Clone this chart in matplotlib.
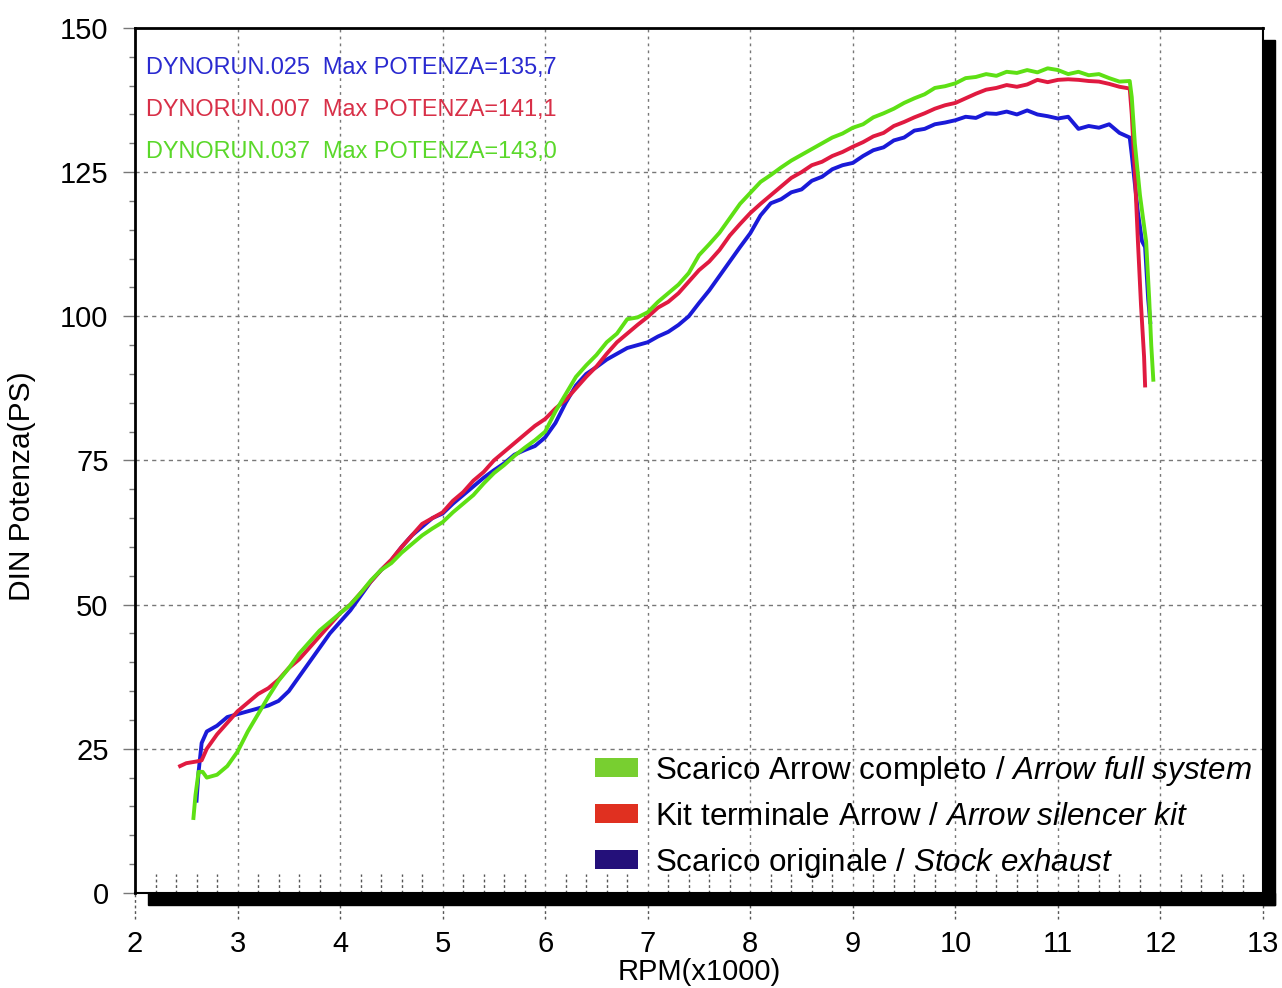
import numpy as np
import matplotlib
matplotlib.use('Agg')
import matplotlib.pyplot as plt
from matplotlib.patches import Rectangle, Patch

# dyno runs, rpm in thousands, power in PS
rpm_stock = [2.60, 2.62, 2.65, 2.70, 2.80, 2.90, 3.00, 3.10, 3.20, 3.30, 3.40, 3.50, 3.60, 3.70, 3.80, 3.90,
	4.00, 4.10, 4.20, 4.30, 4.40, 4.50, 4.60, 4.70, 4.80, 4.90, 5.00, 5.10, 5.20, 5.30, 5.40, 5.50,
	5.60, 5.70, 5.80, 5.90, 6.00, 6.10, 6.20, 6.30, 6.40, 6.50, 6.60, 6.70, 6.80, 6.90, 7.00, 7.10,
	7.20, 7.30, 7.40, 7.50, 7.60, 7.70, 7.80, 7.90, 8.00, 8.10, 8.20, 8.30, 8.40, 8.50, 8.60, 8.70,
	8.80, 8.90, 9.00, 9.10, 9.20, 9.30, 9.40, 9.50, 9.60, 9.70, 9.80, 9.90, 10.00, 10.10, 10.20, 10.30,
	10.40, 10.50, 10.60, 10.70, 10.80, 10.90, 11.00, 11.10, 11.20, 11.30, 11.40, 11.50, 11.60, 11.70,
	11.72, 11.75, 11.78, 11.82, 11.85, 11.88, 11.90]
ps_stock = [16, 21, 26, 28, 29, 30.5, 31, 31.5, 32, 32.5, 33.3, 35, 37.5, 40, 42.5, 45,
	47, 49, 51.5, 54, 56, 57.7, 60, 62, 63.5, 65, 65.8, 67.5, 69, 70.5, 72, 73.3,
	74.5, 76, 76.8, 77.5, 79, 81.5, 85, 88, 90, 91.2, 92.5, 93.5, 94.5, 95, 95.5, 96.5,
	97.3, 98.5, 100, 102.3, 104.5, 107, 109.5, 112, 114.4, 117.5, 119.6, 120.3, 121.5, 122, 123.5, 124.2,
	125.5, 126.2, 126.6, 127.8, 128.8, 129.3, 130.5, 131, 132.2, 132.5, 133.3, 133.6, 134, 134.6, 134.4, 135.2,
	135.1, 135.5, 135, 135.7, 135, 134.7, 134.3, 134.6, 132.5, 133, 132.7, 133.3, 131.8, 131,
	128, 123, 118, 113, 112, 103, 99]

rpm_silencer = [2.44, 2.50, 2.60, 2.65, 2.70, 2.80, 2.90, 3.00, 3.10, 3.20, 3.30, 3.40, 3.50, 3.60, 3.70, 3.80,
	3.90, 4.00, 4.10, 4.20, 4.30, 4.40, 4.50, 4.60, 4.70, 4.80, 4.90, 5.00, 5.10, 5.20, 5.30, 5.40,
	5.50, 5.60, 5.70, 5.80, 5.90, 6.00, 6.10, 6.20, 6.30, 6.40, 6.50, 6.60, 6.70, 6.80, 6.90, 7.00,
	7.10, 7.20, 7.30, 7.40, 7.50, 7.60, 7.70, 7.80, 7.90, 8.00, 8.10, 8.20, 8.30, 8.40, 8.50, 8.60,
	8.70, 8.80, 8.90, 9.00, 9.10, 9.20, 9.30, 9.40, 9.50, 9.60, 9.70, 9.80, 9.90, 10.00, 10.10, 10.20,
	10.30, 10.40, 10.50, 10.60, 10.70, 10.80, 10.90, 11.00, 11.10, 11.20, 11.30, 11.40, 11.50, 11.60,
	11.70, 11.72, 11.75, 11.78, 11.81, 11.84, 11.85]
ps_silencer = [22, 22.5, 22.8, 23, 25, 27.5, 29.5, 31.5, 33, 34.5, 35.5, 37, 39, 40.5, 42.5, 44.5,
	46.5, 48.5, 50, 52, 54, 56, 57.8, 60, 62, 64, 65, 66, 68, 69.5, 71.5, 73,
	75, 76.5, 78, 79.5, 81, 82.2, 84, 85.5, 87.5, 89.5, 91.3, 93.5, 95.5, 97, 98.5, 99.9,
	101.5, 102.5, 104, 106, 108, 109.5, 111.5, 114, 116, 117.9, 119.5, 121, 122.5, 124, 125, 126.2,
	126.8, 127.8, 128.5, 129.4, 130.2, 131.2, 131.8, 133, 133.7, 134.5, 135.2, 136, 136.6, 137, 137.8, 138.6,
	139.3, 139.6, 140.1, 139.8, 140.2, 141, 140.6, 141, 141.1, 141, 140.8, 140.7, 140.3, 139.8,
	139.5, 135, 125, 113, 102, 93, 88]

rpm_full = [2.57, 2.59, 2.62, 2.66, 2.70, 2.80, 2.90, 3.00, 3.10, 3.20, 3.30, 3.40, 3.50, 3.60, 3.70, 3.80,
	3.90, 4.00, 4.10, 4.20, 4.30, 4.40, 4.50, 4.60, 4.70, 4.80, 4.90, 5.00, 5.10, 5.20, 5.30, 5.40,
	5.50, 5.60, 5.70, 5.80, 5.90, 6.00, 6.10, 6.20, 6.30, 6.40, 6.50, 6.60, 6.70, 6.80, 6.90, 7.00,
	7.10, 7.20, 7.30, 7.40, 7.50, 7.60, 7.70, 7.80, 7.90, 8.00, 8.10, 8.20, 8.30, 8.40, 8.50, 8.60,
	8.70, 8.80, 8.90, 9.00, 9.10, 9.20, 9.30, 9.40, 9.50, 9.60, 9.70, 9.80, 9.90, 10.00, 10.10, 10.20,
	10.30, 10.40, 10.50, 10.60, 10.70, 10.80, 10.90, 11.00, 11.10, 11.20, 11.30, 11.40, 11.50, 11.60,
	11.70, 11.72, 11.75, 11.80, 11.86, 11.89, 11.91, 11.93]
ps_full = [13, 17, 21, 21, 20, 20.5, 22, 24.5, 28, 31, 34, 36.8, 39, 41.5, 43.5, 45.5,
	47, 48.5, 50, 52, 54.2, 56, 57.2, 59, 60.5, 62, 63.2, 64.3, 66, 67.5, 69, 71,
	72.8, 74.2, 75.8, 77.2, 78.5, 80, 83.5, 86.5, 89.5, 91.5, 93.3, 95.5, 97, 99.5, 99.8, 100.7,
	102.5, 104, 105.5, 107.5, 110.6, 112.5, 114.5, 117, 119.5, 121.4, 123.3, 124.5, 125.8, 127, 128, 129,
	130, 131, 131.7, 132.7, 133.3, 134.5, 135.2, 136, 137, 137.8, 138.5, 139.6, 139.9, 140.4, 141.3, 141.5,
	142, 141.7, 142.4, 142.2, 142.7, 142.3, 143, 142.7, 142, 142.4, 141.8, 142, 141.3, 140.7,
	140.8, 138, 130, 121, 113, 103, 95, 89]

run_names = ['DYNORUN.025', 'DYNORUN.007', 'DYNORUN.037']
max_power = ['135,7', '141,1', '143,0']
legend_regular = ['Scarico Arrow completo', 'Kit terminale Arrow', 'Scarico originale']
legend_italic = ['Arrow full system', 'Arrow silencer kit', 'Stock exhaust']

x_ticks = list(range(2, 14))
y_ticks = [0, 25, 50, 75, 100, 125, 150]

plt.rcParams['font.family'] = ['Liberation Sans', 'DejaVu Sans']
plt.rcParams['mathtext.fontset'] = 'custom'
plt.rcParams['mathtext.rm'] = 'Liberation Sans'
plt.rcParams['mathtext.it'] = 'Liberation Sans:italic'

blue = '#1a1ad8'
red = '#e01a40'
green = '#5ee014'

fig = plt.figure(figsize=(12.82, 9.88), dpi=100)
ax = fig.add_axes([0.1053, 0.0962, 0.8799, 0.8755])

ax.set_xlim(2, 13)
ax.set_ylim(0, 150)

# grid
for x in x_ticks[1:-1]:
	ax.axvline(x, color='#777777', lw=1, ls=(0, (2, 3)), zorder=1)
for y in y_ticks[1:-1]:
	ax.axhline(y, color='#777777', lw=1, ls=(0, (3, 3)), zorder=1)

# small dashed marks along the bottom every 200 rpm
minor_x = [x for x in np.arange(2.2, 13, 0.2) if abs(x - round(x)) > 0.01]
for x in minor_x:
	ax.plot([x, x], [0, 0.022], transform=ax.get_xaxis_transform(), color='#555555',
		lw=1, ls=(0, (2, 2)), zorder=1)
for x in x_ticks:
	ax.plot([x, x], [-0.03, 0], transform=ax.get_xaxis_transform(), color='#555555',
		lw=1, ls=(0, (2, 2)), clip_on=False, zorder=1)

ax.plot(rpm_stock, ps_stock, color=blue, lw=2.8, zorder=3)
ax.plot(rpm_silencer, ps_silencer, color=red, lw=2.8, zorder=4)
ax.plot(rpm_full, ps_full, color=green, lw=2.8, zorder=5)

# run info top left
text_colors = ['#2a2ad0', '#d83048', '#5ad82a']
for i in range(3):
	ax.text(2.11, 143.2 - i * 7.35, run_names[i] + '  Max POTENZA=' + max_power[i],
		color=text_colors[i], fontsize=16.9, va='center', ha='left', zorder=6)

ax.set_xticks(x_ticks)
ax.set_yticks(y_ticks)
ax.set_yticks(np.arange(5, 150, 5), minor=True)
ax.tick_params(axis='x', length=0, pad=27, labelsize=21)
ax.tick_params(axis='y', which='major', length=9, width=1, color='#777777', pad=10, labelsize=21)
ax.tick_params(axis='y', which='minor', length=4, width=1, color='#777777')
ax.set_xlabel('RPM(x1000)', fontsize=21, labelpad=0)
ax.set_ylabel('DIN Potenza(PS)', fontsize=21.5)
ax.yaxis.set_label_coords(-0.088, 0.47)

for side in ['left', 'top']:
	ax.spines[side].set_linewidth(2)
for side in ['right', 'bottom']:
	ax.spines[side].set_linewidth(1.5)

# drop shadow of the frame
fig.add_artist(Rectangle((0.9852, 0.0840), 0.0095, 0.8755, color='black'))
fig.add_artist(Rectangle((0.1154, 0.0840), 0.8793, 0.0122, color='black'))

handles = [Patch(facecolor='#78cf30', edgecolor='none'),
	Patch(facecolor='#e03020', edgecolor='none'),
	Patch(facecolor='#24107a', edgecolor='none')]
labels = []
for reg, it in zip(legend_regular, legend_italic):
	labels.append(reg + ' / $\\it{' + it.replace(' ', '\\ ') + '}$')
leg = ax.legend(handles, labels, loc='upper left', bbox_to_anchor=(0.408, 0.161),
	frameon=False, fontsize=22.6, handlelength=1.37, handleheight=0.55,
	handletextpad=0.54, labelspacing=0.45, borderpad=0, borderaxespad=0)
leg.set_zorder(7)

fig.savefig('out.png', dpi=100)
